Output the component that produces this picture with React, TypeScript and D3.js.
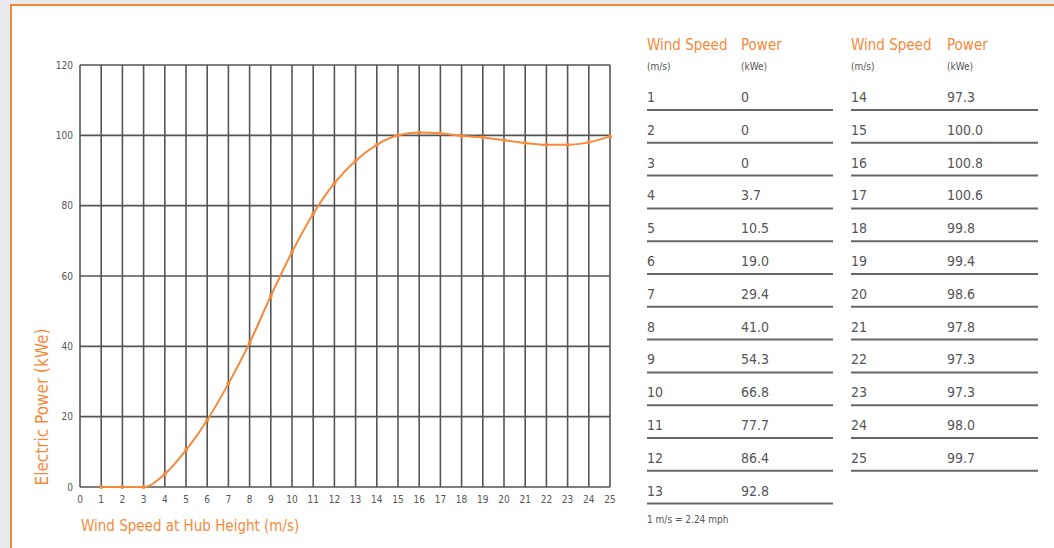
import React from "react";
import * as d3 from "d3";

const windSpeeds = [1,2,3,4,5,6,7,8,9,10,11,12,13,14,15,16,17,18,19,20,21,22,23,24,25];
const powerKWe = [0,0,0,3.7,10.5,19.0,29.4,41.0,54.3,66.8,77.7,86.4,92.8,97.3,100.0,100.8,100.6,99.8,99.4,98.6,97.8,97.3,97.3,98.0,99.7];
const yTicks = [0,20,40,60,80,100,120];
const xTicks = d3.range(0, 26);

const ORANGE = "#f7893b";
const GRID = "#555";
const TEXT = "#555";
const FONT = "'DejaVu Sans Condensed', 'Liberation Sans Narrow', 'Roboto', sans-serif";

export default function App() {
  const W = 1054, H = 548;
  const x = d3.scaleLinear().domain([0, 25]).range([80, 610]);
  const y = d3.scaleLinear().domain([0, 120]).range([487, 65]);
  const pts = windSpeeds.map((w, i) => [w, powerKWe[i]] as [number, number]);
  const line = d3.line<[number, number]>().x(d => x(d[0])).y(d => y(d[1])).curve(d3.curveMonotoneX);

  const fmt = (v: number) => (v === 0 ? "0" : v.toFixed(1));
  const left = pts.slice(0, 13);
  const right = pts.slice(13);
  const rowY = d3.scaleLinear().domain([0, 1]).range([97, 129.8]);

  const table = (rows: [number, number][], x0: number, x1: number, x2: number) => (
    <g>
      <text x={x0} y={50} fill={ORANGE} fontSize={15}>Wind Speed</text>
      <text x={x1} y={50} fill={ORANGE} fontSize={15}>Power</text>
      <text x={x0} y={70} fill={TEXT} fontSize={10}>(m/s)</text>
      <text x={x1} y={70} fill={TEXT} fontSize={10}>(kWe)</text>
      {rows.map((r, i) => (
        <g key={i}>
          <text x={x0} y={rowY(i) + 5} fill={TEXT} fontSize={14}>{r[0]}</text>
          <text x={x1} y={rowY(i) + 5} fill={TEXT} fontSize={14}>{fmt(r[1])}</text>
          <line x1={x0} x2={x2} y1={rowY(i) + 13} y2={rowY(i) + 13} stroke="#666" strokeWidth={2} />
        </g>
      ))}
    </g>
  );

  return (
    <svg width={W} height={H} style={{ position: "absolute", left: 0, top: 0, fontFamily: FONT }}>
      <rect x={0} y={0} width={W} height={H} fill="#eaebf0" />
      <rect x={11} y={5} width={W + 20} height={H + 20} fill="#fff" stroke={ORANGE} strokeWidth={2} />
      {xTicks.map(t => (
        <line key={"v" + t} x1={x(t)} x2={x(t)} y1={y(120)} y2={y(0)} stroke={GRID} strokeWidth={1.6} />
      ))}
      {yTicks.map(t => (
        <line key={"h" + t} x1={x(0)} x2={x(25)} y1={y(t)} y2={y(t)} stroke={GRID} strokeWidth={1.6} />
      ))}
      {yTicks.map(t => (
        <text key={"yt" + t} x={73} y={y(t) + 3.5} textAnchor="end" fill={TEXT} fontSize={10}>{t}</text>
      ))}
      {xTicks.map(t => (
        <text key={"xt" + t} x={x(t)} y={503} textAnchor="middle" fill={TEXT} fontSize={10}>{t}</text>
      ))}
      <path d={line(pts) || ""} fill="none" stroke={ORANGE} strokeWidth={2} />
      {pts.map((p, i) => (
        <circle key={i} cx={x(p[0])} cy={y(p[1])} r={2} fill={ORANGE} />
      ))}
      <text x={81} y={531} fill={ORANGE} fontSize={15}>Wind Speed at Hub Height (m/s)</text>
      <text transform={`translate(48, 407) rotate(-90)`} textAnchor="middle" fill={ORANGE} fontSize={17}>Electric Power (kWe)</text>
      {table(left, 647, 741, 833)}
      {table(right, 851, 947, 1038)}
      <text x={647} y={523} fill={TEXT} fontSize={10}>1 m/s = 2.24 mph</text>
    </svg>
  );
}
